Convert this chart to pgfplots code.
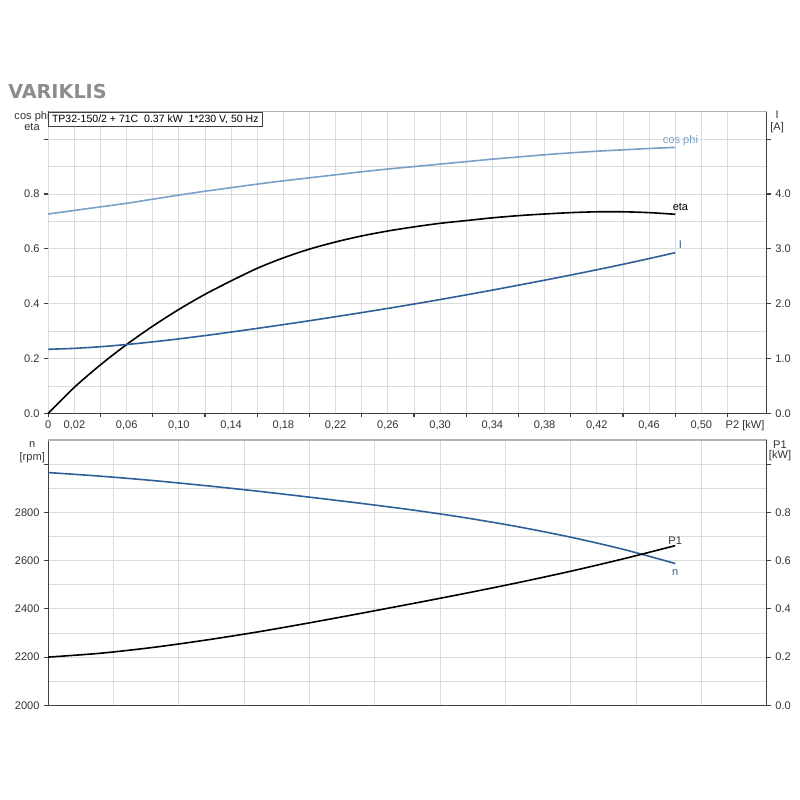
\documentclass[border=0pt]{standalone}
\usepackage{fontspec}
\setmainfont{Liberation Sans}
\newfontfamily\titlefont{DejaVu Sans}
\usepackage{pgfplots}
\pgfplotsset{compat=1.18}
\definecolor{lightblue}{HTML}{7A9FC8}
\definecolor{darkblue}{HTML}{2F5F98}
\definecolor{gridgray}{HTML}{DCDCDC}
\definecolor{axisgray}{HTML}{404040}
\definecolor{txt}{HTML}{333333}
\definecolor{titlegray}{HTML}{8C8C8C}
\newcommand{\sm}{\fontsize{8.3}{10}\selectfont}
\pgfplotsset{
  base/.style={
    scale only axis, width=538.8pt, xmin=0, xmax=0.55,
    anchor=south west,
    tick label style={font=\sm, text=txt},
    /pgf/number format/assume math mode=true,
    tick align=outside, major tick length=3pt, minor tick length=0pt,
    tick style={axisgray, line width=0.8pt},
    axis line style={axisgray, line width=1pt},
    major grid style={gridgray, line width=0.6pt},
    minor grid style={gridgray, line width=0.6pt},
    clip=false,
  },
}
\begin{document}
\begin{tikzpicture}[x=1pt,y=1pt]
\path[use as bounding box] (0,0) rectangle (600,600);
\node[anchor=base west, font=\titlefont\bfseries\fontsize{14.4}{16}\selectfont, text=titlegray, inner sep=0pt] at (6,526.3) {VARIKLIS};

% ---------- top left axis ----------
\begin{axis}[base, at={(36.2pt,290pt)}, height=226.2pt, ymin=0, ymax=1.1,
  axis x line*=bottom, axis y line*=left,
  xtick={0,0.04,0.08,0.12,0.16,0.20,0.24,0.28,0.32,0.36,0.40,0.44,0.48,0.52},
  xticklabels={},
  extra x ticks={0,0.02,0.06,0.10,0.14,0.18,0.22,0.26,0.30,0.34,0.38,0.42,0.46,0.50},
  extra x tick labels={0,{0,02},{0,06},{0,10},{0,14},{0,18},{0,22},{0,26},{0,30},{0,34},{0,38},{0,42},{0,46},{0,50}},
  extra x tick style={grid=major, major tick length=0pt, tick label style={yshift=-2pt}},
  ytick={0,0.2,0.4,0.6,0.8,1.0},
  yticklabels={0.0,0.2,0.4,0.6,0.8,{}},
  minor y tick num=1,
  xmajorgrids, ymajorgrids, yminorgrids,
]
\addplot[lightblue, line width=1.2pt, smooth] coordinates {
(0,0.727)(0.02,0.740)(0.04,0.753)(0.06,0.766)(0.08,0.781)(0.10,0.796)(0.12,0.810)(0.14,0.823)(0.16,0.836)(0.18,0.848)(0.20,0.859)(0.22,0.870)(0.24,0.881)(0.26,0.891)(0.28,0.900)(0.30,0.909)(0.32,0.918)(0.34,0.927)(0.36,0.935)(0.38,0.943)(0.40,0.950)(0.42,0.956)(0.44,0.961)(0.46,0.966)(0.48,0.970)};
\addplot[black, line width=1.2pt, smooth] coordinates {
(0,0)(0.02,0.095)(0.04,0.177)(0.06,0.251)(0.08,0.318)(0.10,0.379)(0.12,0.434)(0.14,0.483)(0.16,0.529)(0.18,0.567)(0.20,0.599)(0.22,0.625)(0.24,0.647)(0.26,0.665)(0.28,0.680)(0.30,0.693)(0.32,0.703)(0.34,0.713)(0.36,0.721)(0.38,0.727)(0.40,0.732)(0.42,0.735)(0.44,0.735)(0.46,0.732)(0.48,0.726)};
\draw[gray!60, line width=1pt] (rel axis cs:0,1) -- (rel axis cs:1,1);
\node[anchor=north west, draw=axisgray, line width=0.6pt, fill=white, inner xsep=2.5pt, inner ysep=2pt, font=\fontsize{7.9}{9.5}\selectfont, text=black] at (rel axis cs:0,1) {TP32-150/2 + 71C\ \ 0.37 kW\ \ 1*230 V, 50 Hz};
\node[font=\sm, text=lightblue] at (axis cs:0.484,0.994) {cos phi};
\node[font=\sm, text=black] at (axis cs:0.484,0.752) {eta};
\end{axis}

% ---------- top right axis ----------
\begin{axis}[base, at={(36.2pt,290pt)}, height=226.2pt, ymin=0, ymax=5.5,
  axis x line=none, axis y line*=right,
  ytick={0,1,2,3,4,5},
  yticklabels={0.0,1.0,2.0,3.0,4.0,{}},
]
\addplot[darkblue, line width=1.2pt, smooth] coordinates {
(0,1.168)(0.02,1.185)(0.04,1.215)(0.06,1.255)(0.08,1.303)(0.10,1.358)(0.12,1.418)(0.14,1.482)(0.16,1.549)(0.18,1.618)(0.20,1.689)(0.22,1.762)(0.24,1.837)(0.26,1.914)(0.28,1.993)(0.30,2.075)(0.32,2.160)(0.34,2.247)(0.36,2.337)(0.38,2.428)(0.40,2.522)(0.42,2.618)(0.44,2.718)(0.46,2.822)(0.48,2.930)};
\node[font=\sm, text=darkblue] at (axis cs:0.484,3.07) {I};
\end{axis}

% ---------- bottom left axis ----------
\begin{axis}[base, at={(36.2pt,71pt)}, height=199pt, ymin=2000, ymax=3100,
  axis x line*=bottom, axis y line*=left,
  xtick={0,0.05,0.10,0.15,0.20,0.25,0.30,0.35,0.40,0.45,0.50,0.55},
  xticklabels={}, xtick style={draw=none},
  ytick={2000,2200,2400,2600,2800,3000},
  yticklabels={2000,2200,2400,2600,2800,{}},
  minor y tick num=1,
  xmajorgrids, ymajorgrids, yminorgrids,
]
\addplot[darkblue, line width=1.2pt, smooth] coordinates {
(0,2965)(0.04,2950)(0.08,2932)(0.12,2911)(0.16,2888)(0.20,2863)(0.24,2837)(0.28,2809)(0.32,2777)(0.36,2740)(0.40,2697)(0.44,2647)(0.48,2588)};
\draw[gray!60, line width=1pt] (rel axis cs:0,1) -- (rel axis cs:1,1);
\node[font=\sm, text=darkblue] at (axis cs:0.48,2549) {n};
\end{axis}

% ---------- bottom right axis ----------
\begin{axis}[base, at={(36.2pt,71pt)}, height=199pt, ymin=0, ymax=1.1,
  axis x line=none, axis y line*=right,
  ytick={0,0.2,0.4,0.6,0.8,1.0},
  yticklabels={0.0,0.2,0.4,0.6,0.8,{}},
]
\addplot[black, line width=1.2pt, smooth] coordinates {
(0,0.200)(0.04,0.216)(0.08,0.240)(0.12,0.270)(0.16,0.304)(0.20,0.342)(0.24,0.382)(0.28,0.423)(0.32,0.465)(0.36,0.509)(0.40,0.556)(0.44,0.607)(0.48,0.662)};
\node[font=\sm, text=txt] at (axis cs:0.48,0.684) {P1};
\end{axis}

% ---------- axis titles ----------
\node[font=\sm, text=txt] at (24,512.3) {cos phi};
\node[font=\sm, text=txt] at (24,504.8) {eta};
\node[font=\sm, text=txt] at (582.8,513.8) {I};
\node[font=\sm, text=txt] at (582.8,504) {[A]};
\node[font=\sm, text=txt] at (24.2,266.3) {n};
\node[font=\sm, text=txt] at (24.2,257) {[rpm]};
\node[font=\sm, text=txt] at (585,266.3) {P1};
\node[font=\sm, text=txt] at (585,258) {[kW]};
\node[font=\sm, text=txt] at (558.8,281) {P2 [kW]};
\end{tikzpicture}
\end{document}
